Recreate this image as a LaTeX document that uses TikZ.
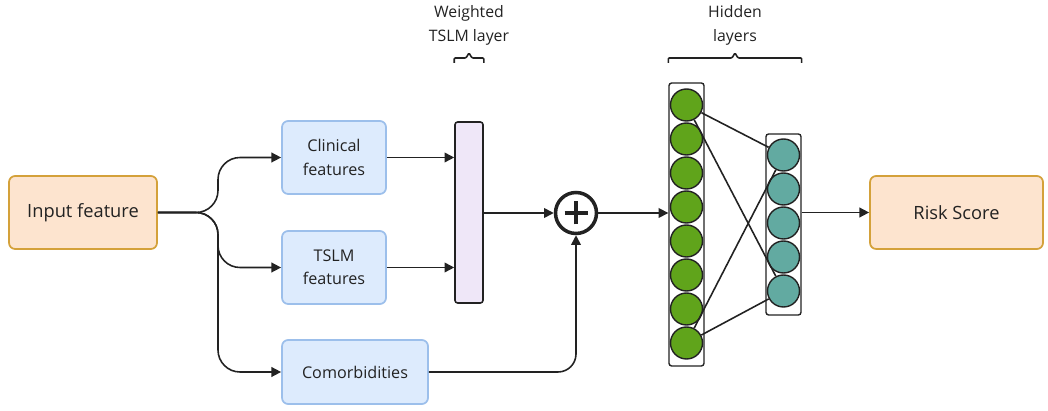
\documentclass[tikz,border=0pt]{standalone}
\usepackage{fontspec}
\setmainfont{Open Sans}
\usetikzlibrary{arrows.meta}
\definecolor{peach}{HTML}{FDE4CF}
\definecolor{peachline}{HTML}{D4A13A}
\definecolor{featfill}{HTML}{DDEBFD}
\definecolor{featline}{HTML}{9CBFEB}
\definecolor{lav}{HTML}{EFE7F8}
\definecolor{ink}{HTML}{222222}
\definecolor{greenn}{HTML}{60A41B}
\definecolor{tealn}{HTML}{62AAA1}
\begin{document}
\begin{tikzpicture}[x=0.02cm, y=-0.02cm, >={Triangle[length=5.5pt,width=5.5pt]},
  io/.style={draw=peachline, fill=peach, rounded corners=3.5pt, line width=1pt, minimum height=1.46cm, font=\fontsize{10.4}{12}\selectfont, text=ink},
  feat/.style={draw=featline, fill=featfill, rounded corners=3.5pt, line width=1pt, minimum width=2.08cm, minimum height=1.46cm, align=center, font=\fontsize{9.2}{13.2}\selectfont, text=ink},
  layerbox/.style={draw=ink, fill=white, rounded corners=1.5pt, line width=0.8pt, minimum width=0.7cm},
  gn/.style={circle, draw=ink, fill=greenn, line width=0.8pt, minimum size=0.64cm, inner sep=0pt},
  tn/.style={circle, draw=ink, fill=tealn, line width=0.8pt, minimum size=0.64cm, inner sep=0pt},
  lbl/.style={align=center, font=\fontsize{9}{13.7}\selectfont, text=ink},
  bracket/.style={draw=ink, line width=0.9pt, rounded corners=0.6pt},
  conn/.style={->, draw=ink, line width=0.9pt}]
\useasboundingbox (0,0) rectangle (1048,411);

\node[io, minimum width=2.96cm] (I) at (83,212.5) {Input feature};
\node[feat] (CF) at (334,157.5) {Clinical\\features};
\node[feat] (TF) at (334,267.5) {TSLM\\features};
\node[feat, minimum width=2.92cm, minimum height=1.28cm] (CM) at (355,372) {Comorbidities};
\node[draw=ink, fill=lav, rounded corners=1.5pt, line width=0.9pt, minimum width=0.56cm, minimum height=3.62cm] (W) at (469,212.5) {};
\node[circle, draw=ink, line width=2pt, minimum size=0.82cm] (P) at (576,213) {};
\draw[ink, line width=2.2pt] ([xshift=-0.23cm]P.center) -- ([xshift=0.23cm]P.center);
\draw[ink, line width=2.2pt] ([yshift=-0.23cm]P.center) -- ([yshift=0.23cm]P.center);
\node[layerbox, minimum height=5.66cm] (GB) at (686.5,224.5) {};
\node[layerbox, minimum height=3.62cm] (TB) at (783.5,224.5) {};
\node[io, minimum width=3.46cm] (R) at (956.5,212.5) {Risk Score};

% hidden units
\foreach \i in {1,...,8}
  \node[gn] (g\i) at (686.5,{105+34*(\i-1)}) {};
\foreach \i in {1,...,5}
  \node[tn] (t\i) at (783.5,{155+34*(\i-1)}) {};
\draw[ink, line width=0.9pt] (g1) -- (t1);
\draw[ink, line width=0.9pt] (g1) -- (t5);
\draw[ink, line width=0.9pt] (g8) -- (t1);
\draw[ink, line width=0.9pt] (g8) -- (t5);

% labels and brackets
\node[lbl] (WL) at (469,25) {Weighted\\TSLM layer};
\node[lbl] (HL) at (735,25) {Hidden\\layers};
\draw[bracket] (W.west |- 0,63) -- (W.west |- 0,58) -- (466,58) -- (469,53) -- (472,58) -- (W.east |- 0,58) -- (W.east |- 0,63);
\draw[bracket] (GB.west |- 0,63) -- (GB.west |- 0,58) -- (732,58) -- (735,53) -- (738,58) -- (TB.east |- 0,58) -- (TB.east |- 0,63);

% connectors
\draw[conn, rounded corners=0.44cm] (I.east) -| (218,157.5) -- (CF.west);
\draw[conn, rounded corners=0.44cm] (I.east) -| (218,267.5) -- (TF.west);
\draw[conn, rounded corners=0.44cm] (I.east) -| (218,372) -- (CM.west);
\draw[conn] (CF.east) -- (CF.east -| W.west);
\draw[conn] (TF.east) -- (TF.east -| W.west);
\draw[conn] (W.east |- P) -- (P.west);
\draw[conn, rounded corners=0.36cm] (CM.east) -| (P.south);
\draw[conn] (P.east) -- (P -| GB.west);
\draw[conn] (TB.east |- R) -- (R.west);
\end{tikzpicture}
\end{document}
